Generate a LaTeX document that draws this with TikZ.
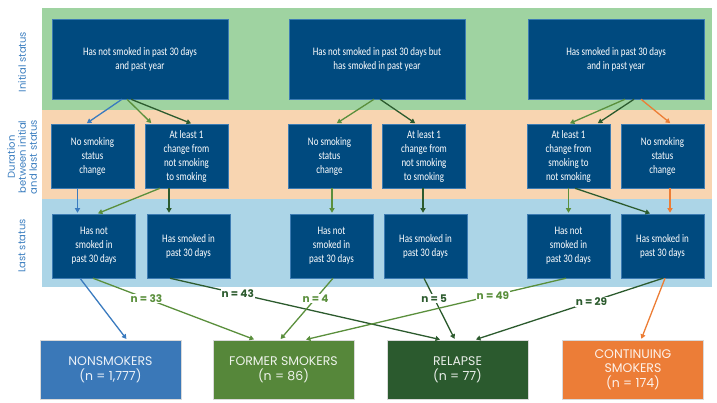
\documentclass[tikz,border=0pt]{standalone}
\usepackage{fontspec}
\usetikzlibrary{arrows.meta}
\newfontfamily\boxfont[FakeStretch=0.78]{Carlito}
\newfontfamily\geofont{Poppins}
\definecolor{bandgreen}{HTML}{9FD3A1}
\definecolor{bandpeach}{HTML}{F8D5B1}
\definecolor{bandblue}{HTML}{ACD5E7}
\definecolor{boxblue}{HTML}{004A7F}
\definecolor{boxedge}{HTML}{3D7CB3}
\definecolor{cblue}{HTML}{3A7BBF}
\definecolor{clgreen}{HTML}{5A8F3C}
\definecolor{cdgreen}{HTML}{2C5B2E}
\definecolor{corange}{HTML}{EC7D35}
\definecolor{labblue}{HTML}{3D7FC0}
\definecolor{resblue}{HTML}{3A78B8}
\definecolor{resgreen}{HTML}{56873A}
\definecolor{resdgreen}{HTML}{2B5A2E}
\definecolor{resorange}{HTML}{EC7D37}
\tikzset{
  sbox/.style={draw=boxedge, line width=0.5pt, fill=boxblue, text=white,
    font=\boxfont\fontsize{11.5}{14}\selectfont, align=center, inner sep=0pt},
  topbox/.style={sbox, minimum width=176pt, minimum height=80pt},
  smallbox/.style={sbox, minimum width=83pt, minimum height=64pt},
  resbox/.style={fill=#1, draw=black!15, line width=0.5pt, text=white!90!#1,
    font=\geofont\fontsize{12.5}{14.5}\selectfont, align=center,
    minimum width=141pt, minimum height=59pt, inner sep=0pt},
  sidelab/.style={rotate=90, text=labblue, font=\geofont\fontsize{10}{11}\selectfont, align=center},
  flow/.style={draw=#1, line width=1.3pt, -{Triangle[length=4.5pt,width=5pt]}, shorten >=1pt},
  nlab/.style={fill=white, inner sep=1pt, text=#1, font=\geofont\bfseries\fontsize{10.5}{12}\selectfont}
}
\begin{document}
\begin{tikzpicture}[x=1pt,y=-1pt]
\useasboundingbox (0,0) rectangle (717,403);
% bands
\fill[bandgreen] (42,8) rectangle (712,110);
\fill[bandpeach] (42,110) rectangle (712,199);
\fill[bandblue] (42,199) rectangle (712,287);
% side labels
\node[sidelab] (lab1) at (22,62) {Initial status};
\node[sidelab] (lab2) at (22,157) {Duration\\between initial\\and last status};
\node[sidelab] (lab3) at (22,246) {Last status};
% top boxes
\node[topbox] (t1) at (140,59) {Has not smoked in past 30 days\\and past year};
\node[topbox] (t2) at (377,59) {Has not smoked in past 30 days but\\has smoked in past year};
\node[topbox] (t3) at (616,59) {Has smoked in past 30 days\\and in past year};
% middle boxes
\node[smallbox] (m1) at (92.5,156) {No smoking\\status\\change};
\node[smallbox] (m2) at (186.5,156) {At least 1\\change from\\not smoking\\to smoking};
\node[smallbox] (m3) at (329.5,156) {No smoking\\status\\change};
\node[smallbox] (m4) at (424,156) {At least 1\\change from\\not smoking\\to smoking};
\node[smallbox] (m5) at (568.5,156) {At least 1\\change from\\smoking to\\not smoking};
\node[smallbox] (m6) at (662.5,156) {No smoking\\status\\change};
% last boxes
\node[smallbox] (l1) at (94,246) {Has not\\smoked in\\past 30 days};
\node[smallbox] (l2) at (188.5,246) {Has smoked in\\past 30 days};
\node[smallbox] (l3) at (331.5,246) {Has not\\smoked in\\past 30 days};
\node[smallbox] (l4) at (425.5,246) {Has smoked in\\past 30 days};
\node[smallbox] (l5) at (568.5,246) {Has not\\smoked in\\past 30 days};
\node[smallbox] (l6) at (662.5,246) {Has smoked in\\past 30 days};
% result boxes
\node[resbox=resblue] (b1) at (110.5,369.5) {NONSMOKERS\\(n = 1,777)};
\node[resbox=resgreen] (b2) at (283.5,369.5) {FORMER SMOKERS\\(n = 86)};
\node[resbox=resdgreen] (b3) at (457.5,369.5) {RELAPSE\\(n = 77)};
\node[resbox=resorange] (b4) at (633,369.5) {CONTINUING\\SMOKERS\\(n = 174)};
% top -> middle
\draw[flow=cblue] ([xshift=-18pt]t1.south) -- ([xshift=-6.5pt]m1.north);
\draw[flow=clgreen] ([xshift=-13pt]t1.south) -- ([xshift=-34.5pt]m2.north);
\draw[flow=cdgreen] ([xshift=-9pt]t1.south) -- ([xshift=5.5pt]m2.north);
\draw[flow=clgreen] ([xshift=-3pt]t2.south) -- ([xshift=6.5pt]m3.north);
\draw[flow=cdgreen] ([xshift=3pt]t2.south) -- ([xshift=-8pt]m4.north);
\draw[flow=clgreen] ([xshift=9pt]t3.south) -- ([xshift=0.5pt]m5.north);
\draw[flow=cdgreen] ([xshift=18pt]t3.south) -- ([xshift=28.5pt]m5.north);
\draw[flow=corange] ([xshift=25pt]t3.south) -- ([xshift=8.5pt]m6.north);
% middle -> last
\draw[flow=cblue] ([xshift=-15pt]m1.south) -- ([xshift=-15pt]m1.south |- l1.north);
\draw[flow=clgreen] ([xshift=-26.5pt]m2.south) -- ([xshift=3pt]l1.north);
\draw[flow=cdgreen] ([xshift=-17.5pt]m2.south) -- ([xshift=-17.5pt]m2.south |- l2.north);
\draw[flow=clgreen] ([xshift=2.5pt]m3.south) -- ([xshift=2.5pt]m3.south |- l3.north);
\draw[flow=cdgreen] ([xshift=-1pt]m4.south) -- ([xshift=-1pt]m4.south |- l4.north);
\draw[flow=clgreen] ([xshift=0pt]m5.south) -- ([xshift=0pt]m5.south |- l5.north);
\draw[flow=cdgreen] ([xshift=6.5pt]m5.south) -- ([xshift=-11.5pt]l6.north);
\draw[flow=corange] ([xshift=7.5pt]m6.south) -- ([xshift=7.5pt]m6.south |- l6.north);
% last -> result
\draw[flow=cblue] ([xshift=-14pt]l1.south) -- ([xshift=16.5pt]b1.north);
\draw[flow=clgreen] ([xshift=-1pt]l1.south) -- node[nlab=clgreen, pos=0.33] (n33) {n = 33} ([xshift=-28.5pt]b2.north);
\draw[flow=cdgreen] ([xshift=-18.5pt]l2.south) -- node[nlab=cdgreen, pos=0.25] (n43) {n = 43} ([xshift=-16.5pt]b3.north);
\draw[flow=clgreen] ([xshift=1.5pt]l3.south) -- node[nlab=clgreen, pos=0.33] (n4) {n = 4} ([xshift=-3.5pt]b2.north);
\draw[flow=cdgreen] ([xshift=-1.5pt]l4.south) -- node[nlab=cdgreen, pos=0.33] (n5) {n = 5} ([xshift=-2.5pt]b3.north);
\draw[flow=clgreen] ([xshift=-2.5pt]l5.south) -- node[nlab=clgreen, pos=0.28] (n49) {n = 49} ([xshift=21.5pt]b2.north);
\draw[flow=cdgreen] ([xshift=0.5pt]l6.south) -- node[nlab=cdgreen, pos=0.38] (n29) {n = 29} ([xshift=17.5pt]b3.north);
\draw[flow=corange] ([xshift=2.5pt]l6.south) -- ([xshift=8pt]b4.north);
\end{tikzpicture}
\end{document}
